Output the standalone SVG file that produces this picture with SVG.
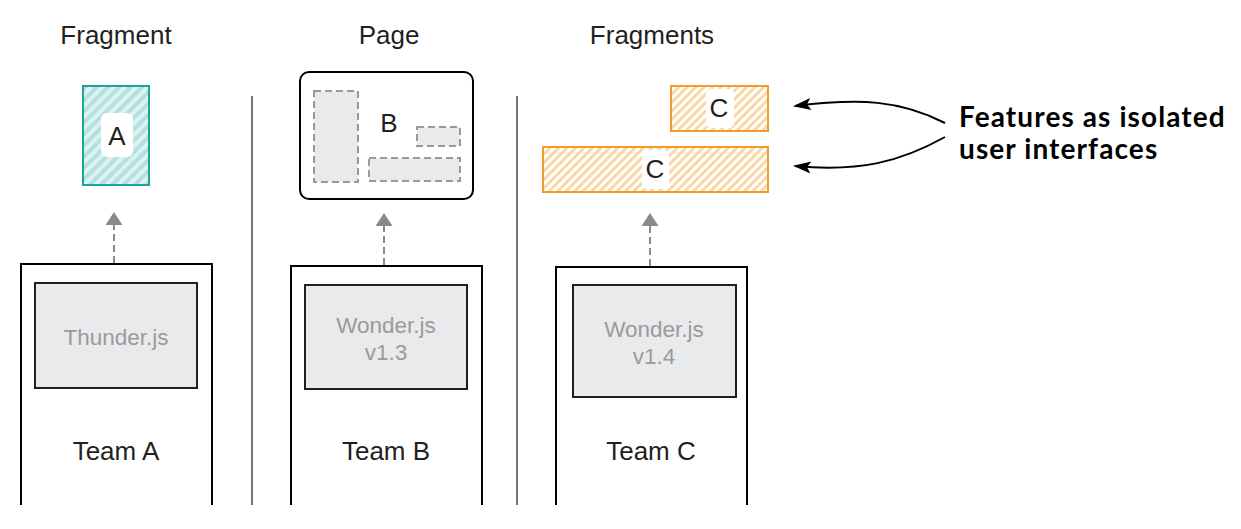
<svg xmlns="http://www.w3.org/2000/svg" width="1241" height="529" viewBox="0 0 1241 529">
<style>
.t{font-family:"Liberation Sans",Arial,sans-serif;fill:#231f20;text-anchor:middle}
.title{font-size:26px}
.team{font-size:26px}
.lib{font-size:22.5px;fill:#9a9a9a}
.letter{font-size:26px}
.team-box{fill:#fff;stroke:#000;stroke-width:2}
.lib-box{fill:#e9eaec;stroke:#231f20;stroke-width:2}
.dash-box{fill:#e9eaea;stroke:#999;stroke-width:2;stroke-dasharray:7 4}
.sep{stroke:#777;stroke-width:2}
.dep{stroke:#8a8a8a;stroke-width:2;stroke-dasharray:7 4;fill:none}
.call{stroke:#000;stroke-width:2;fill:none;marker-end:url(#blk)}
.note{font-family:Lato,"Open Sans",sans-serif;font-weight:bold;font-size:28px;letter-spacing:1.1px;fill:#000}
</style>
<defs>
<pattern id="hatchT" width="8" height="8" patternUnits="userSpaceOnUse" patternTransform="rotate(45)">
<rect width="8" height="8" fill="#def2f2"/>
<rect width="4" height="8" fill="#b3e0e0"/>
</pattern>
<pattern id="hatchO" width="6" height="6" patternUnits="userSpaceOnUse" patternTransform="rotate(45)">
<rect width="6" height="6" fill="#fff"/>
<rect width="3" height="6" fill="#fbd7a6"/>
</pattern>
<marker id="gry" markerWidth="13" markerHeight="17" refX="0" refY="8.5" orient="auto" markerUnits="userSpaceOnUse" viewBox="0 0 13 17">
<path d="M0,0 L0,17 L13,8.5 Z" fill="#8a8a8a"/>
</marker>
<marker id="blk" markerWidth="18" markerHeight="14" refX="16" refY="7" orient="auto" markerUnits="userSpaceOnUse" viewBox="0 0 18 14">
<path d="M0,1 L18,7 L0,13 L4,7 Z" fill="#000"/>
</marker>
</defs>

<g id="titles">
<text class="t title" x="116" y="44">Fragment</text>
<text class="t title" x="389" y="44">Page</text>
<text class="t title" x="652" y="44">Fragments</text>
</g>

<g id="separators">
<line class="sep" x1="252" y1="96" x2="252" y2="505"/>
<line class="sep" x1="517" y1="96" x2="517" y2="505"/>
</g>

<g id="fragment-a">
<rect x="83" y="86" width="66" height="99" fill="url(#hatchT)" stroke="#1ea39b" stroke-width="2"/>
<rect x="101" y="113" width="32" height="44" rx="6" fill="#fff"/>
<text class="t letter" x="117" y="145">A</text>
</g>

<g id="page-b">
<rect x="300" y="72" width="173" height="127" rx="9" fill="#fff" stroke="#000" stroke-width="2"/>
<rect class="dash-box" x="314" y="91" width="44" height="91"/>
<rect class="dash-box" x="417" y="127" width="43" height="19"/>
<rect class="dash-box" x="369" y="158" width="91" height="23"/>
<text class="t letter" x="389" y="132">B</text>
</g>

<g id="fragment-c1">
<rect x="671" y="86" width="97" height="45" fill="url(#hatchO)" stroke="#f39a2e" stroke-width="2"/>
<rect x="706" y="89" width="28" height="39" rx="5" fill="#fff"/>
<text class="t letter" x="719" y="117">C</text>
</g>

<g id="fragment-c2">
<rect x="543" y="147" width="225" height="45" fill="url(#hatchO)" stroke="#f39a2e" stroke-width="2"/>
<rect x="642" y="150" width="27" height="39" rx="5" fill="#fff"/>
<text class="t letter" x="655" y="178">C</text>
</g>

<g id="team-a">
<path class="team-box" d="M21,505 L21,264 L212,264 L212,505"/>
<rect class="lib-box" x="35" y="283" width="162" height="105"/>
<text class="t lib" x="116" y="345">Thunder.js</text>
<text class="t team" x="116" y="460">Team A</text>
</g>

<g id="team-b">
<path class="team-box" d="M291,505 L291,266 L482,266 L482,505"/>
<rect class="lib-box" x="305" y="285" width="162" height="104"/>
<text class="t lib" x="386" y="333">Wonder.js</text>
<text class="t lib" x="386" y="360">v1.3</text>
<text class="t team" x="386" y="460">Team B</text>
</g>

<g id="team-c">
<path class="team-box" d="M556,505 L556,267 L747,267 L747,505"/>
<rect class="lib-box" x="573" y="285" width="163" height="112"/>
<text class="t lib" x="654" y="337">Wonder.js</text>
<text class="t lib" x="654" y="364">v1.4</text>
<text class="t team" x="651" y="460">Team C</text>
</g>

<g id="annotation">
<text class="note" x="959" y="127">Features as isolated</text>
<text class="note" x="959" y="159">user interfaces</text>
</g>

<g id="connectors">
<line class="dep" x1="114" y1="263" x2="114" y2="225" marker-end="url(#gry)"/>
<line class="dep" x1="384" y1="265" x2="384" y2="226" marker-end="url(#gry)"/>
<line class="dep" x1="650" y1="266" x2="650" y2="226" marker-end="url(#gry)"/>
<path class="call" d="M945,123 C900,100 860,98 795,106"/>
<path class="call" d="M945,137 C900,162 860,172 795,166"/>
</g>
</svg>
